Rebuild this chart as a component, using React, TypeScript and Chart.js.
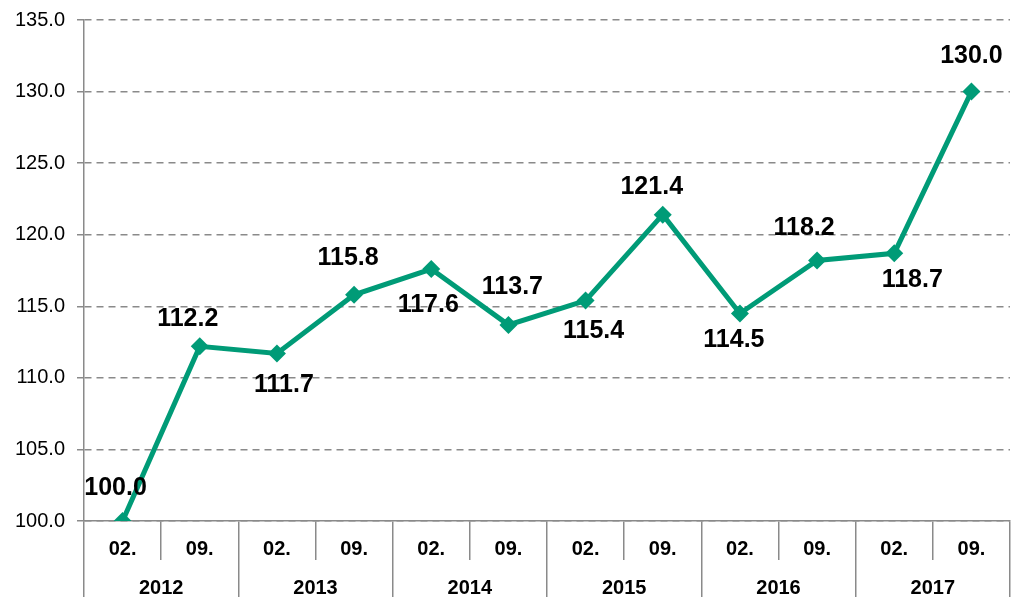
import React, { useEffect, useRef } from "react";
import { Chart, registerables } from "chart.js";

Chart.register(...registerables);

const categories = ["02.", "09.", "02.", "09.", "02.", "09.", "02.", "09.", "02.", "09.", "02.", "09."];
const years = ["2012", "2013", "2014", "2015", "2016", "2017"];
const values = [100.0, 112.2, 111.7, 115.8, 117.6, 113.7, 115.4, 121.4, 114.5, 118.2, 118.7, 130.0];
const yTicks = [100, 105, 110, 115, 120, 125, 130, 135];

const LINE_COLOR = "#009B77";
const GRAY = "#8A8A8A";
const FONT = "'Liberation Sans', Arial, sans-serif";

// label offsets relative to the point (px)
const labelOffsets: [number, number][] = [
  [-7, -33],
  [-12, -27],
  [7, 32],
  [-6, -37],
  [-3, 36],
  [4, -38],
  [8, 31],
  [-11, -28],
  [-6, 27],
  [-13, -32],
  [18, 27],
  [0, -35],
];

const labelPlugin = {
  id: "pointLabels",
  afterDatasetsDraw(chart: any) {
    const ctx = chart.ctx;
    const meta = chart.getDatasetMeta(0);
    ctx.save();
    ctx.font = `bold 25px ${FONT}`;
    ctx.fillStyle = "#000";
    ctx.textAlign = "center";
    ctx.textBaseline = "middle";
    meta.data.forEach((pt: any, i: number) => {
      const [dx, dy] = labelOffsets[i];
      ctx.fillText(values[i].toFixed(1), pt.x + dx, pt.y + dy);
    });
    ctx.restore();
  },
};

export default function App() {
  const ref = useRef<HTMLCanvasElement>(null);
  useEffect(() => {
    document.body.style.margin = "0";
    const chart = new Chart(ref.current!, {
      type: "line",
      data: {
        labels: categories,
        datasets: [
          {
            data: values,
            borderColor: LINE_COLOR,
            backgroundColor: LINE_COLOR,
            borderWidth: 5,
            pointStyle: "rectRot",
            pointRadius: 9,
            pointHoverRadius: 9,
            pointBorderWidth: 0,
            tension: 0,
            xAxisID: "x",
          },
        ],
      },
      options: {
        animation: false,
        responsive: false,
        maintainAspectRatio: false,
        layout: { padding: { top: 20, right: 0, left: 0, bottom: 0 } },
        plugins: { legend: { display: false }, tooltip: { enabled: false } },
        scales: {
          x: {
            type: "category",
            position: "bottom",
            offset: true,
            grid: {
              offset: true,
              drawOnChartArea: false,
              drawTicks: true,
              tickLength: 39,
              color: GRAY,
              lineWidth: 1.5,
            },
            border: { display: true, color: GRAY, width: 1.5 },
            ticks: {
              font: { family: FONT, size: 20, weight: "bold" },
              color: "#000",
              padding: -23,
              maxRotation: 0,
              autoSkip: false,
            },
            afterFit(scale: any) {
              scale.height = 39;
              scale.paddingLeft = 0;
              scale.paddingRight = 0;
            },
          },
          x2: {
            type: "category",
            position: "bottom",
            labels: years,
            offset: true,
            grid: {
              offset: true,
              drawOnChartArea: false,
              drawTicks: true,
              tickLength: 40,
              color: GRAY,
              lineWidth: 1.5,
            },
            border: { display: false },
            ticks: {
              font: { family: FONT, size: 20, weight: "bold" },
              color: "#000",
              padding: -24,
              maxRotation: 0,
              autoSkip: false,
            },
            afterFit(scale: any) {
              scale.height = 37;
              scale.paddingLeft = 0;
              scale.paddingRight = 0;
            },
          },
          y: {
            min: 100,
            max: 135,
            position: "left",
            afterBuildTicks(scale: any) {
              scale.ticks = yTicks.map((v) => ({ value: v }));
            },
            ticks: {
              font: { family: FONT, size: 20 },
              color: "#000",
              padding: 12,
              callback: (v: any) => Number(v).toFixed(1),
            },
            grid: {
              color: GRAY,
              lineWidth: 1.5,
              tickBorderDash: [],
              tickLength: 7,
              drawTicks: true,
            },
            border: { display: true, color: GRAY, width: 1.5, dash: [7, 5] },
            afterFit(scale: any) {
              scale.width = 84;
              scale.paddingTop = 0;
              scale.paddingBottom = 0;
            },
          },
        },
      },
      plugins: [labelPlugin],
    });
    return () => chart.destroy();
  }, []);
  return <canvas ref={ref} width={1019} height={597} style={{ display: "block" }} />;
}
